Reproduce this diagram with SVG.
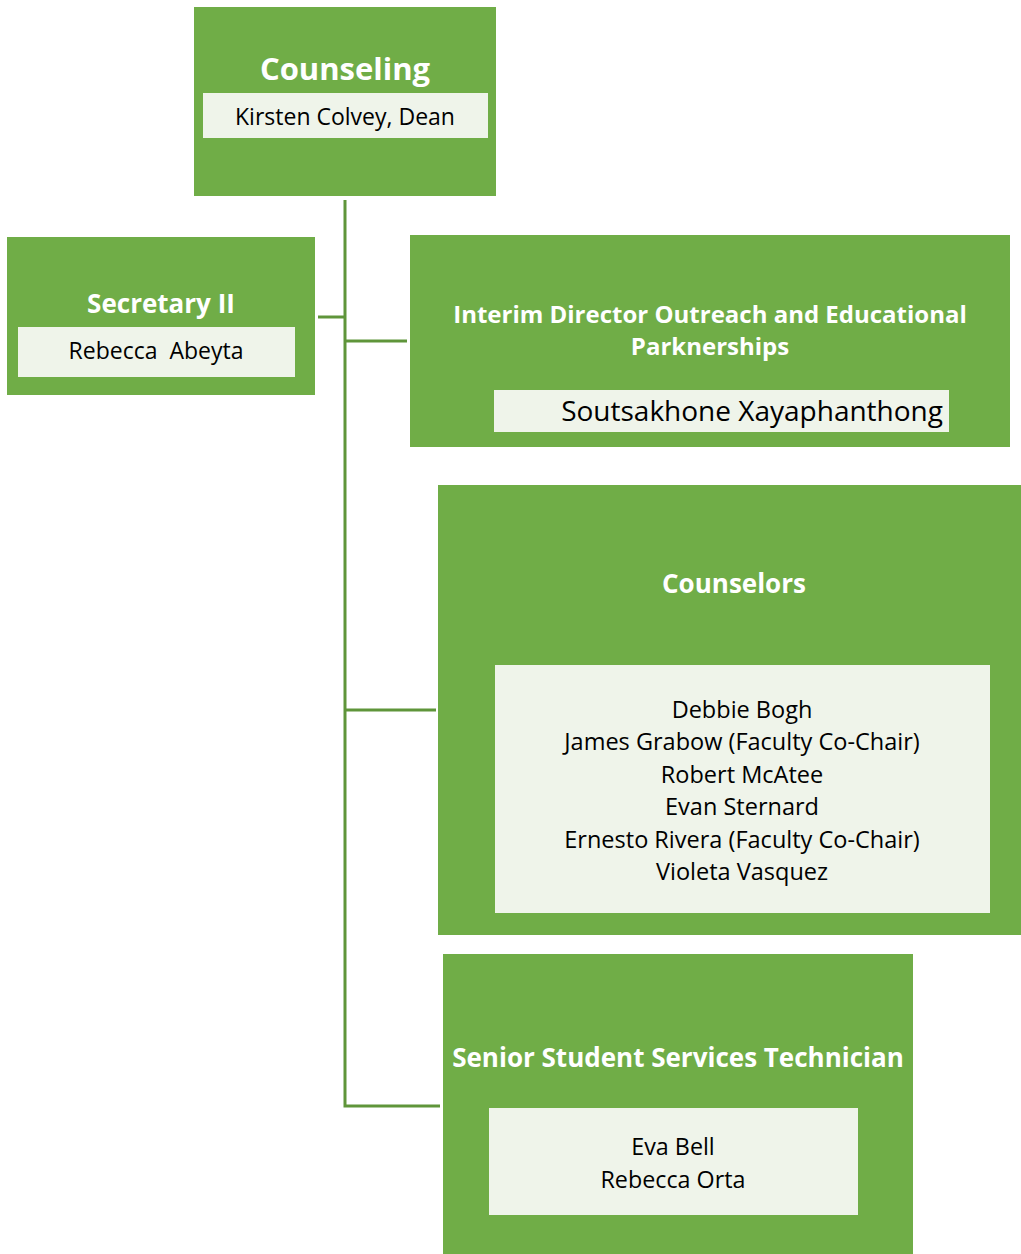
<svg xmlns="http://www.w3.org/2000/svg" width="1021" height="1254" viewBox="0 0 1021 1254">
<style>
.box{fill:#70ad47}
.inner{fill:#eff4ea}
.title{font-family:"Open Sans",Lato,sans-serif;font-weight:bold;fill:#ffffff;text-anchor:middle}
.name{font-family:"Open Sans",Lato,sans-serif;fill:#000000;text-anchor:middle}
.conn{stroke:#5f953a;stroke-width:3;fill:none}
</style>
<rect width="1021" height="1254" fill="#ffffff"/>
<g id="connectors">
<path class="conn" d="M345,200 V1106 H440"/>
<path class="conn" d="M318,317 H345"/>
<path class="conn" d="M345,341 H407"/>
<path class="conn" d="M345,710 H436"/>
</g>
<g id="counseling">
<rect class="box" x="194" y="7" width="302" height="189"/>
<rect class="inner" x="203" y="93" width="285" height="45"/>
<text class="title" x="345" y="80" font-size="31">Counseling</text>
<text class="name" x="345" y="125" font-size="23">Kirsten Colvey, Dean</text>
</g>
<g id="secretary">
<rect class="box" x="7" y="237" width="308" height="158"/>
<rect class="inner" x="18" y="327" width="277" height="50"/>
<text class="title" x="161" y="313" font-size="26">Secretary II</text>
<text class="name" x="156" y="359" font-size="23" xml:space="preserve">Rebecca  Abeyta</text>
</g>
<g id="interim">
<rect class="box" x="410" y="235" width="600" height="212"/>
<rect class="inner" x="494" y="390" width="455" height="42"/>
<text class="title" x="710" y="323" font-size="24">Interim Director Outreach and Educational</text>
<text class="title" x="710" y="355" font-size="24">Parknerships</text>
<text class="name" x="943" y="421" font-size="28" style="text-anchor:end">Soutsakhone Xayaphanthong</text>
</g>
<g id="counselors">
<rect class="box" x="438" y="485" width="583" height="450"/>
<rect class="inner" x="495" y="665" width="495" height="248"/>
<text class="title" x="734" y="593" font-size="26">Counselors</text>
<text class="name" x="742" y="718" font-size="23.5">Debbie Bogh</text>
<text class="name" x="742" y="750" font-size="23.5">James Grabow (Faculty Co-Chair)</text>
<text class="name" x="742" y="783" font-size="23.5">Robert McAtee</text>
<text class="name" x="742" y="815" font-size="23.5">Evan Sternard</text>
<text class="name" x="742" y="848" font-size="23.5">Ernesto Rivera (Faculty Co-Chair)</text>
<text class="name" x="742" y="880" font-size="23.5">Violeta Vasquez</text>
</g>
<g id="technician">
<rect class="box" x="443" y="954" width="470" height="300"/>
<rect class="inner" x="489" y="1108" width="369" height="107"/>
<text class="title" x="678" y="1067" font-size="26">Senior Student Services Technician</text>
<text class="name" x="673" y="1155" font-size="23.3">Eva Bell</text>
<text class="name" x="673" y="1188" font-size="23.3">Rebecca Orta</text>
</g>
</svg>
